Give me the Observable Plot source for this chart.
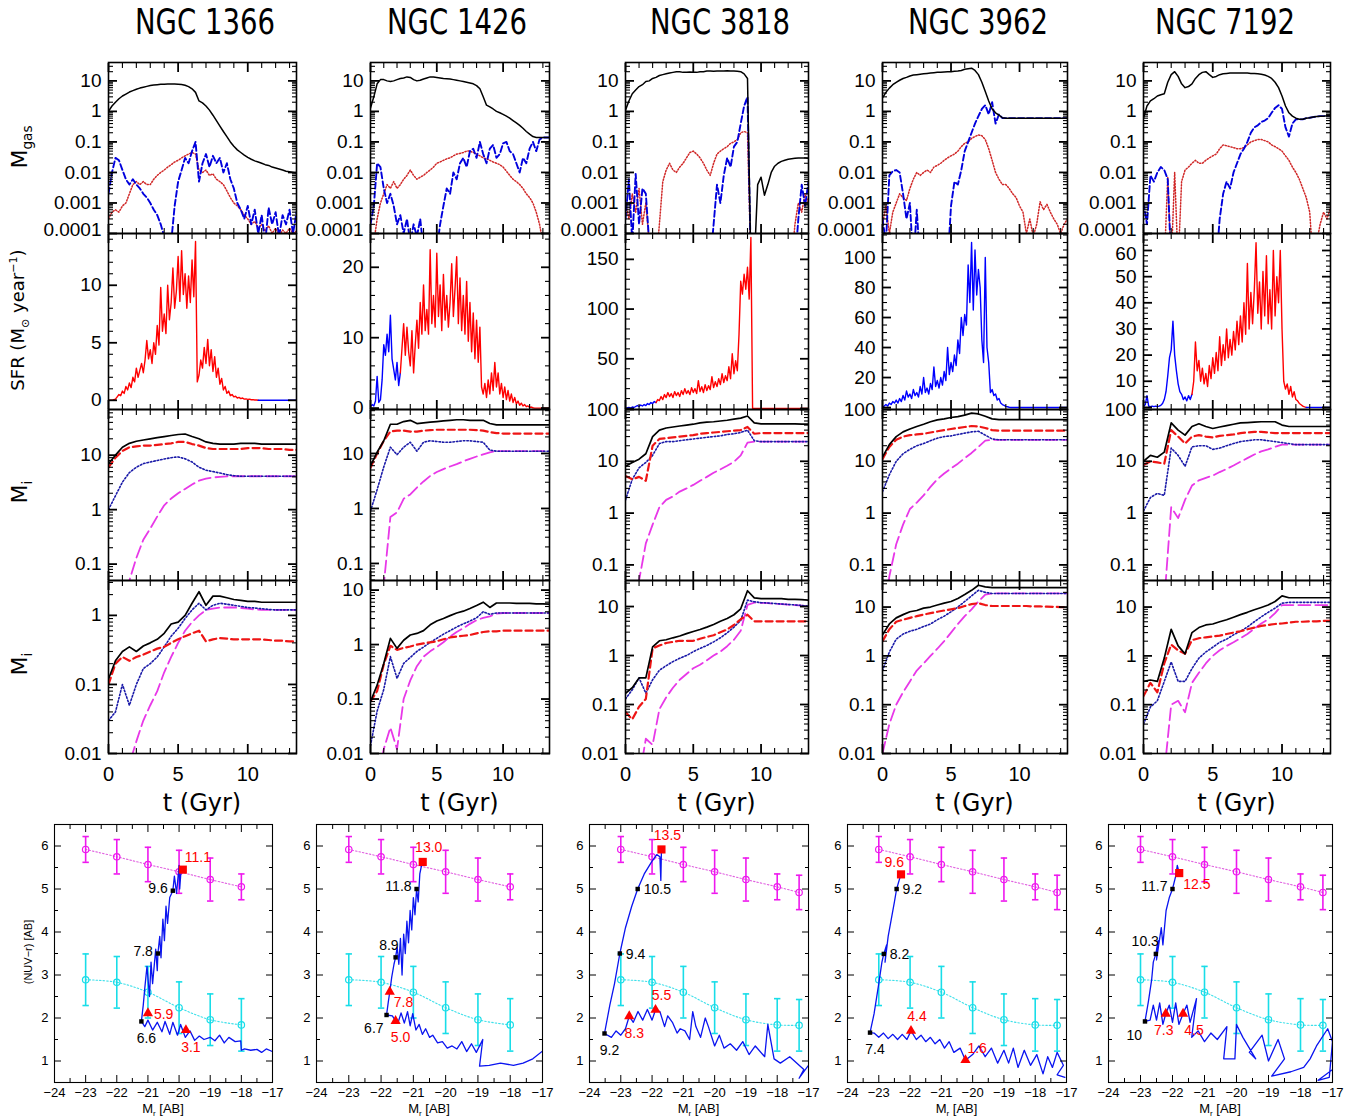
<!DOCTYPE html>
<html><head><meta charset="utf-8">
<script src="https://cdn.jsdelivr.net/npm/d3@7"></script>
<script src="https://cdn.jsdelivr.net/npm/@observablehq/plot@0.6"></script>
<style>
body{margin:0;background:#fff;}
#fig{position:relative;width:1360px;height:1120px;overflow:hidden;background:#fff;font-family:"Liberation Sans",Arial,sans-serif;color:#000;}
.title{position:absolute;font-family:"Liberation Sans Narrow","DejaVu Sans Condensed","Liberation Sans",sans-serif;font-size:36px;line-height:1;white-space:nowrap;transform:translate(-50%,-50%) scaleX(0.85);}
.ylab{position:absolute;white-space:nowrap;line-height:1;transform:translate(-50%,-50%) rotate(-90deg);font-family:"DejaVu Sans",sans-serif;}
.xlab{position:absolute;white-space:nowrap;line-height:1;transform:translate(-50%,-50%);}
sub,sup{font-size:0.62em;line-height:0;}
</style></head><body><div id="fig"></div>
<script>
// ---------------- data ----------------
const galaxies = ["NGC 1366","NGC 1426","NGC 3818","NGC 3962","NGC 7192"];

const T_A = [0,0.5,1,1.5,2,2.5,3,3.5,4,4.5,5,5.5,6,6.5,7,7.5,8,8.5,9,9.5,10,10.5,11,11.5,12,12.5,13,13.5];
const T_B = [0,0.25,0.5,0.75,1,1.25,1.5,1.75,2,2.25,2.5,2.75,3,3.25,3.5,3.75,4,4.25,4.5,4.75,5,5.25,5.5,5.75,6,6.25,6.5,6.75,7,7.25,7.5,7.75,8,8.25,8.5,8.75,9,9.25,9.5,9.75,10,10.25,10.5,10.75,11,11.25,11.5,11.75,12,12.25,12.5,12.75,13,13.25,13.5];
const T_C = [0,0.125,0.25,0.375,0.5,0.625,0.75,0.875,
 1,1.125,1.25,1.375,1.5,1.625,1.75,1.875,
 2,2.125,2.25,2.375,2.5,2.625,2.75,2.875,
 3,3.125,3.25,3.375,3.5,3.625,3.75,3.875,
 4,4.125,4.25,4.375,4.5,4.625,4.75,4.875,
 5,5.125,5.25,5.375,5.5,5.625,5.75,5.875,
 6,6.125,6.25,6.375,6.5,6.625,6.75,6.875,
 7,7.125,7.25,7.375,7.5,7.625,7.75,7.875,
 8,8.125,8.25,8.375,8.5,8.625,8.75,8.875,
 9,9.125,9.25,9.375,9.5,9.625,9.75,9.875,
 10,10.125,10.25,10.375,10.5,10.625,10.75,10.875,
 11,11.125,11.25,11.375,11.5,11.625,11.75,11.875,
 12,12.125,12.25,12.375,12.5,12.625,12.75,12.875,
 13,13.125,13.25,13.375,13.5];

// Row 1: M_gas (black solid, blue dashed, red dotted) on T_B
const gasK_1366 = [1.0,1.5,2.0,2.6, 3.2,3.7,4.3,4.8, 5.3,5.8,6.2,6.6, 7.0,7.3,7.5,7.7, 7.8,7.9,7.9,7.9, 7.8,7.6,7.2,6.5, 5.5,4.2,2.2,1.9, 1.5,1.1,0.75,0.5, 0.33,0.22,0.15,0.1, 0.072,0.055,0.045,0.037, 0.031,0.027,0.024,0.022, 0.02,0.018,0.017,0.015, 0.014,0.013,0.012,0.011, 0.0105,0.01,0.0095];
const gasB_1366 = [0.002,0.01,0.03,0.025, 0.012,0.006,0.004,0.006, 0.004,0.003,0.002,0.0015, 0.001,0.0006,0.0004,0.0002, 0.00008,0.00003,0.00005,0.0008, 0.005,0.012,0.03,0.02, 0.05,0.1,0.005,0.02, 0.04,0.015,0.035,0.02, 0.03,0.01,0.02,0.006, 0.003,0.001,0.0006,0.0003, 0.0008,0.0002,0.0006,0.0001, 0.0004,0.00005,0.0007,0.0002, 0.0005,0.00008,0.0004,0.0002, 0.0006,0.0001,0.0005];
const gasR_1366 = [0.0003,0.0005,0.0006,0.0005, 0.0008,0.001,0.002,0.004, 0.005,0.004,0.005,0.004, 0.004,0.006,0.008,0.01, 0.012,0.015,0.018,0.022, 0.025,0.03,0.035,0.04, 0.045,0.04,0.012,0.01, 0.012,0.008,0.009,0.006, 0.005,0.004,0.0025,0.0015, 0.001,0.0008,0.0006,0.0004, 0.0003,0.0002,0.00025,0.00015, 0.0002,0.00012,0.00018,0.0001, 0.00015,0.00008,0.00013,0.0001, 0.00015,0.0001,0.00012];

const gasK_1426 = [1.3,3,8,11, 11,10,9.5,10, 11,12,12.5,13.5, 13,11,10,10.5, 11.5,12.5,13.5,13.5, 13,12.5,12,11.8, 11.5,11,10.5,10, 9.5,9,8.5,8, 7,5.5,3,1.6, 1.4,1.2,1.0,0.9, 0.8,0.7,0.6,0.5, 0.42,0.35,0.28,0.22, 0.18,0.15,0.14,0.14, 0.14,0.14,0.14];
const gasB_1426 = [0.0002,0.0008,0.02,0.015, 0.003,0.001,0.002,0.0008, 0.0002,0.0004,0.0001,0.0003, 0.00005,0.0002,0.00008,0.0003, 0.00003,0.00001,0.00001,0.00001, 0.00003,0.0002,0.0008,0.003, 0.002,0.01,0.006,0.02, 0.03,0.015,0.05,0.06, 0.03,0.1,0.04,0.02, 0.06,0.08,0.03,0.04, 0.09,0.1,0.05,0.04, 0.02,0.01,0.03,0.02, 0.06,0.1,0.05,0.12, 0.14,0.14,0.14];
const gasR_1426 = [0.00001,0.00005,0.0003,0.001, 0.002,0.004,0.003,0.005, 0.003,0.004,0.006,0.008, 0.012,0.008,0.006,0.007, 0.008,0.01,0.012,0.015, 0.02,0.022,0.025,0.028, 0.03,0.035,0.04,0.042, 0.045,0.05,0.05,0.045, 0.04,0.035,0.03,0.028, 0.025,0.022,0.02,0.018, 0.015,0.011,0.008,0.006, 0.005,0.004,0.003,0.002, 0.0015,0.001,0.0005,0.0002, 0.00005,0.00001,0.0001];

const gasK_3818 = [1.1,2.2,3.8,5, 6.5,7.5,9.5,10, 12,13,15,16, 17,18,19,20, 20,19,19,19.5, 19,19,20,20, 21,21,20.5,21, 21,21,21.5,21, 21,20.5,20,17, 12,0.00001,0.00001,0.004, 0.007,0.0018,0.004,0.01, 0.016,0.02,0.023,0.025, 0.027,0.028,0.029,0.03, 0.03,0.03,0.029];
const gasB_3818 = [0.0003,0.006,0.00005,0.009, 0.0002,0.003,0.002,0.00005, 0.00001,0.00001,0.00001,0.00001, 0.00001,0.00001,0.00001,0.00001, 0.00001,0.00001,0.00001,0.00001, 0.00001,0.00001,0.00001,0.00001, 0.00001,0.00001,0.0002,0.004, 0.001,0.008,0.03,0.015, 0.07,0.1,0.4,1.5, 3,0.00001,0.00001,0.00001, 0.00001,0.00001,0.00001,0.00001, 0.00001,0.00001,0.00001,0.00001, 0.00001,0.00001,0.00001,0.0003, 0.004,0.0008,0.005];
const gasR_3818 = [0.001,0.0003,0.002,0.0005, 0.003,0.0002,0.001,0.00005, 0.00001,0.00001,0.0002,0.005, 0.012,0.02,0.012,0.01, 0.015,0.02,0.03,0.045, 0.05,0.04,0.03,0.02, 0.012,0.008,0.02,0.04, 0.05,0.06,0.07,0.09, 0.1,0.12,0.2,0.22, 0.2,0.00001,0.00001,0.00001, 0.00001,0.00001,0.00001,0.00001, 0.00001,0.00001,0.00001,0.00001, 0.00001,0.00001,0.0002,0.001, 0.0005,0.002,0.001];

const gasK_3962 = [2.8,4.2,5.8,7.5, 9,10.5,12,13, 14.5,15.5,16,16.5, 17,17.5,18,18.5, 19,19,19.5,20, 20,20.5,21,22, 24,25,26,22, 16,9,4.5,2.2, 1.2,0.9,0.75,0.62, 0.6,0.6,0.6,0.6, 0.6,0.6,0.6,0.6, 0.6,0.6,0.6,0.6, 0.6,0.6,0.6,0.6, 0.6,0.6,0.6];
const gasB_3962 = [0.0003,0.00005,0.008,0.011, 0.012,0.01,0.002,0.0003, 0.001,0.00001,0.0006,0.00001, 0.00001,0.00001,0.00001,0.00001, 0.00001,0.00001,0.00001,0.00001, 0.0008,0.005,0.004,0.012, 0.05,0.1,0.2,0.4, 0.7,1.2,1.6,0.8, 2.0,0.4,0.8,0.6, 0.6,0.6,0.6,0.6, 0.6,0.6,0.6,0.6, 0.6,0.6,0.6,0.6, 0.6,0.6,0.6,0.6, 0.6,0.6,0.6];
const gasR_3962 = [0.0002,0.0008,0.0001,0.0005, 0.001,0.002,0.0015,0.0012, 0.003,0.006,0.01,0.008, 0.01,0.012,0.01,0.015, 0.017,0.02,0.025,0.03, 0.035,0.04,0.05,0.07, 0.09,0.1,0.13,0.15, 0.17,0.16,0.12,0.06, 0.025,0.01,0.006,0.004, 0.004,0.003,0.002,0.0015, 0.0008,0.0005,0.0001,0.0003, 0.00008,0.0002,0.0011,0.0006, 0.0009,0.0005,0.0003,0.0002, 0.0001,0.0002,0.0003];

const gasK_7192 = [0.6,1.5,2.2,2.6, 3.2,3.5,3.8,9, 16,20,14,8, 6,6.5,8,12, 16,19,20,16, 13,14,16,17, 17.5,18,18,18, 18,18,18,17.5, 17.5,17,16.5,15.5, 14,12,9,6, 3.2,1.5,0.9,0.7, 0.6,0.55,0.55,0.6, 0.62,0.65,0.68,0.7, 0.7,0.72,0.72];
const gasB_7192 = [0.001,0.0002,0.008,0.005, 0.01,0.015,0.012,0.006, 0.00001,0.00001,0.00001,0.00001, 0.00001,0.00001,0.00001,0.00001, 0.00001,0.00001,0.00001,0.00001, 0.00001,0.00001,0.0003,0.002, 0.005,0.003,0.01,0.02, 0.04,0.06,0.1,0.2, 0.3,0.35,0.45,0.5, 0.6,0.9,1.3,1.6, 1.2,0.3,0.15,0.4, 0.55,0.55,0.55,0.6, 0.62,0.65,0.68,0.7, 0.7,0.72,0.72];
const gasR_7192 = [0.00001,0.00001,0.00001,0.00001, 0.00001,0.00001,0.00001,0.007, 0.00001,0.01,0.00001,0.005, 0.012,0.015,0.02,0.025, 0.02,0.02,0.025,0.03, 0.035,0.04,0.06,0.08, 0.075,0.07,0.065,0.06, 0.06,0.065,0.08,0.1, 0.11,0.12,0.12,0.11, 0.1,0.08,0.07,0.06, 0.05,0.035,0.025,0.015, 0.01,0.006,0.003,0.0015, 0.0005,0.00001,0.00005,0.0002, 0.0005,0.0003,0.0007];

// Row 2: SFR on T_C; colour segments [colour, t from, t to]
const sfr_1366 = [0,0,0,0.05,0.1,0.3,0.5,0.4, 0.8,0.6,1.2,0.9,1.5,1.1,2.0,1.6, 2.8,2.0,2.6,3.2,2.4,3.5,5.2,3.6, 4.4,3.2,5.0,4.0,6.5,4.8,9.8,6.0, 7.5,5.8,10.0,7.0,8.5,11.5,8.0,9.5, 12.5,8.6,13.0,9.2,11.0,8.0,10.8,8.5, 12.2,9.0,13.8,1.6,2.2,3.5,2.8,4.6, 3.2,5.3,3.0,4.4,2.5,3.8,2.0,2.8, 1.4,1.9,0.9,1.2,0.6,0.8,0.4,0.5, 0.3,0.35,0.2,0.25,0.15,0.2,0.1,0.12, 0.08,0.1,0.05,0.06,0.03,0.02,0,0, 0,0,0,0,0,0,0,0, 0,0,0,0,0,0,0,0, 0,0,0,0,0];
const sfr_1426 = [0.2,0.5,0.3,1.0,4.5,0.8,1.2,4.0, 9.0,7.5,10.5,8.0,13.2,7.0,5.5,4.0, 6.5,3.2,5.0,8.5,12.0,7.5,11.5,8.0, 6.0,11.0,5.0,9.0,12.5,8.5,15.0,10.5, 17.5,11.0,14.0,10.5,22.5,12.0,16.0,11.5, 22.0,13.0,17.5,11.0,19.0,12.5,16.0,11.5, 15.0,20.5,13.0,17.0,21.5,12.0,18.5,11.0, 16.0,10.5,18.0,9.5,15.0,8.0,13.5,7.0, 12.5,6.5,11.5,3.0,2.0,3.5,1.5,4.0, 2.0,5.0,2.5,6.5,3.0,5.0,2.0,3.5, 1.5,3.0,1.2,2.5,1.0,2.0,0.8,1.5, 0.6,1.0,0.4,0.7,0.3,0.5,0.2,0.3, 0.1,0.15,0.05,0,0,0,0,0, 0,0,0,0,0];
const sfr_3818 = [0,0.5,1,0.5,1.5,1,2,3, 2,3.5,2.5,4,3,5,4,6, 5,7,6,9,8,12,9,14, 11,16,12,15,11,17,13,16, 12,18,14,20,15,18,14,21, 16,20,15,28,17,22,16,24, 18,23,19,32,21,27,22,30, 24,35,26,33,28,42,30,55, 35,48,38,75,128,115,135,120, 142,110,172,0,0,0,0,0, 0,0,0,0,0,0,0,0, 0,0,0,0,0,0,0,0, 0,0,0,0,0,0,0,0, 0,0,0,0,0];
const sfr_3962 = [0.5,1,2,1,3,2,4,3, 5,3,6,4,8,5,11,7, 9,6,12,8,10,7,14,9, 20,10,13,9,16,12,27,14, 18,13,20,15,24,18,40,22, 30,24,35,28,45,36,60,48, 62,55,95,70,110,65,105,75, 92,80,45,30,100,40,30,10, 12,8,9,5,6,3,2,1.5, 0.8,0.5,0.2,0,0,0,0,0, 0,0,0,0,0,0,0,0, 0,0,0,0,0,0,0,0, 0,0,0,0,0,0,0,0, 0,0,0,0,0];
const sfr_7192 = [0.5,1,4.5,0.5,0.3,0.5,0.3,0.5, 0.3,0.5,0.8,1.5,3,6,12,19, 22,33,20,14,9,6,5,3, 4,2.5,4.5,3,5,10,25,14, 18,10,15,9,13,8,16,11, 19,13,21,14,27,16,24,18, 30,19,26,20,29,22,33,24, 35,25,40,28,55,30,44,32, 45,63,36,48,30,52,35,58, 32,45,30,60,35,50,40,60, 30,10,7,9,5,8,4,6, 3,2.5,1.5,1,0.5,0.2,0,0, 0,0,0,0,0,0,0,0, 0,0,0,0,0];
const sfrSeg_1366 = [["red",0,10.75],["blue",10.75,13.5]];
const sfrSeg_1426 = [["blue",0,2.25],["red",2.25,13.5]];
const sfrSeg_3818 = [["blue",0,2.25],["red",2.25,13.5]];
const sfrSeg_3962 = [["blue",0,13.5]];
const sfrSeg_7192 = [["blue",0,3.5],["red",3.5,11.75],["blue",11.75,13.5]];

// Row 3: M_i (black solid, red dashed, blue dotted, magenta long dash) on T_A
const m1K_1366 = [7,10, 14,16.5, 18,19, 20,21, 22,23, 24,24.5, 22,20, 17.5,16.5, 16,16, 16,16.5, 16.5,16.5, 16,16, 16,16, 16,16];
const m1R_1366 = [6,9, 12,14, 14.5,15, 15,15.5, 16,16.5, 17.5,17.5, 16,15, 13.5,13, 13,13, 13,13, 13.5,13.5, 13.5,13, 13,13, 12.5,12.5];
const m1B_1366 = [1.0,1.8, 3.2,4.8, 6,7, 7.5,8, 8.5,9, 9.3,8.6, 7.5,6, 5.3,5, 4.7,4.4, 4.2,4.1, 4.1,4.1, 4.1,4.1, 4.1,4.1, 4.1,4.1];
const m1M_1366 = [0.001,0.003, 0.01,0.05, 0.13,0.28, 0.45,0.75, 1.2,1.6, 2.0,2.4, 2.9,3.4, 3.7,3.9, 4.0,4.1, 4.1,4.1, 4.1,4.1, 4.1,4.1, 4.1,4.1, 4.1,4.1];
const m1K_1426 = [6,10.5, 17,34, 34,38, 40,35, 36,37, 38,39, 40,41, 41,40, 40,40, 35,33, 33,33, 33,33, 33,33, 33,33];
const m1R_1426 = [5.5,10, 17,25, 26,26, 25,25, 26,26.5, 27,27, 27,27, 27,27, 26.5,26, 24.5,23.5, 23,23, 23,23, 23,23, 23,23];
const m1B_1426 = [0.9,2.2, 5.7,13, 9.5,13, 16,11, 16,17, 16.5,16, 16,16.5, 17,17, 16.5,16, 11.5,11, 11,11, 11,11, 11,11, 11,11];
const m1M_1426 = [0.001,0.003, 0.04,0.7, 0.85,1.5, 1.8,2.4, 3.1,3.9, 4.6,5.2, 5.8,6.4, 7.2,8, 8.8,9.6, 10.5,11, 11,11, 11,11, 11,11, 11,11];
const m1K_3818 = [8,9.5, 11,14, 30,40, 44,46, 48,50, 52,55, 57,58, 60,62, 65,68, 75,55, 53,53, 53,53, 53,53, 52,52];
const m1R_3818 = [5.2,4.5, 5,4.2, 20,27, 28,29, 30,31, 32,34, 35,36, 37,38, 39,40, 46,34, 35,35, 35,35, 35,35, 35,35];
const m1B_3818 = [1.8,4.5, 7.5,9.5, 13,22, 24,24, 25,26, 27,28, 29,30, 31,33, 34,36, 40,25, 24,24, 24,24, 24,24, 24,24];
const m1M_3818 = [0.001,0.005, 0.05,0.26, 0.6,1.3, 1.8,2.1, 2.6,3.0, 3.5,4.2, 5.0,6, 7,8.2, 9.8,13, 23,24, 24,24, 24,24, 24,24, 24,24];
const m1K_3962 = [12,21, 30,37, 42,47, 52,58, 63,66, 70,73, 78,85, 82,74, 66,64, 64,64, 64,64, 64,64, 64,64, 64,64];
const m1R_3962 = [11,19, 26,30, 32,33, 34,36, 38,40, 42,44, 46,48, 47,44, 40,39, 39,39, 39,39, 39,39, 39,39, 39,39];
const m1B_3962 = [2.6,5.5, 10,14, 17,20, 22,25, 28,30, 31,33, 35,37, 38,32, 27,26, 26,26, 26,26, 26,26, 26,26, 26,26];
const m1M_3962 = [0.005,0.06, 0.25,0.6, 1.2,1.6, 2.2,3.2, 4.5,5.8, 7.3,9, 11.5,14.5, 19,25, 26,26, 26,26, 26,26, 26,26, 26,26, 26,26];
const m1K_7192 = [10,13, 12,15, 55,40, 32,47, 53,47, 43,46, 49,52, 55,56, 57,58, 58,58, 50,47, 47,47, 47,47, 47,47];
const m1R_7192 = [8.5,10, 9.5,9, 40,30, 22,30, 32,30, 29,31, 32,33, 35,36, 37,37, 36,35, 35,35, 35,35, 35,35, 35,35];
const m1B_7192 = [1.1,2, 2.4,2.2, 18,13, 8,19, 20,20, 17,18, 20,22, 24,25, 26,26, 25,24, 23,22, 21,21, 21,21, 21,21];
const m1M_7192 = [0.001,0.002, 0.005,0.02, 1.3,0.8, 1.8,3.4, 4.3,4.8, 5.3,6.2, 7.1,8.3, 9.8,11.5, 13.5,15.5, 17,19, 21,21, 21,21, 21,21, 21,21];

// Row 4: M_i on T_A
const m2K_1366 = [0.12,0.22, 0.3,0.35, 0.3,0.36, 0.4,0.45, 0.55,0.75, 0.8,1.0, 1.5,2.2, 1.4,1.9, 1.9,1.8, 1.7,1.65, 1.6,1.6, 1.55,1.55, 1.55,1.55, 1.55,1.55];
const m2R_1366 = [0.1,0.2, 0.25,0.22, 0.25,0.27, 0.3,0.33, 0.35,0.4, 0.45,0.5, 0.55,0.6, 0.42,0.45, 0.47,0.46, 0.45,0.45, 0.45,0.45, 0.45,0.44, 0.43,0.43, 0.42,0.42];
const m2B_1366 = [0.03,0.04, 0.1,0.05, 0.1,0.17, 0.2,0.25, 0.35,0.5, 0.65,0.9, 1.2,1.5, 1.2,1.4, 1.5,1.45, 1.4,1.35, 1.3,1.28, 1.25,1.22, 1.2,1.2, 1.2,1.2];
const m2M_1366 = [0.001,0.002, 0.004,0.007, 0.015,0.03, 0.05,0.08, 0.15,0.25, 0.4,0.6, 0.8,1.0, 1.2,1.25, 1.3,1.3, 1.3,1.28, 1.25,1.22, 1.2,1.2, 1.2,1.2, 1.2,1.2];
const m2K_1426 = [0.09,0.18, 0.45,1.3, 0.85,1.2, 1.5,1.6, 1.8,2.3, 2.7,3.0, 3.4,3.8, 4.1,4.6, 5.2,6, 4.8,5.8, 5.8,5.8, 5.7,5.7, 5.7,5.6, 5.6,5.5];
const m2R_1426 = [0.09,0.14, 0.43,0.95, 0.8,0.87, 0.92,1.0, 1.05,1.1, 1.15,1.25, 1.35,1.4, 1.45,1.5, 1.6,1.7, 1.75,1.75, 1.8,1.8, 1.8,1.8, 1.8,1.8, 1.8,1.8];
const m2B_1426 = [0.014,0.06, 0.15,0.6, 0.24,0.45, 0.58,0.75, 0.9,1.1, 1.3,1.55, 1.8,2.1, 2.4,2.7, 3.1,4.0, 3.6,3.8, 3.8,3.8, 3.8,3.8, 3.8,3.8, 3.8,3.8];
const m2M_1426 = [0.001,0.003, 0.012,0.03, 0.012,0.1, 0.22,0.4, 0.6,0.75, 0.9,1.1, 1.4,1.7, 2.0,2.4, 2.8,3.1, 3.3,3.7, 3.8,3.8, 3.8,3.8, 3.8,3.8, 3.8,3.8];
const m2K_3818 = [0.17,0.22, 0.35,0.35, 1.5,2.0, 2.1,2.3, 2.5,2.8, 3.1,3.4, 3.8,4.3, 5.0,5.7, 6.8,9, 21,15, 14.5,14.5, 14.5,14.5, 14,14, 13.8,13.5];
const m2R_3818 = [0.07,0.05, 0.09,0.13, 1.4,1.6, 1.8,1.9, 2.0,2.0, 2.0,2.2, 2.4,2.6, 3.0,3.4, 4.2,5.5, 6.8,5, 5,5, 5,5, 5,5, 5,5];
const m2B_3818 = [0.13,0.2, 0.35,0.17, 0.32,0.5, 0.62,0.75, 0.88,1.0, 1.2,1.4, 1.6,1.9, 2.3,2.9, 3.8,5.2, 13.5,12.5, 12,11.8, 11.5,11.3, 11,10.8, 10.5,10.2];
const m2M_3818 = [0.001,0.001, 0.003,0.02, 0.015,0.08, 0.14,0.22, 0.32,0.42, 0.55,0.65, 0.8,1.0, 1.2,1.55, 2.1,3.2, 10.8,12.0, 11.9,11.7, 11.4,11.2, 10.9,10.7, 10.4,10.1];
const m2K_3962 = [2.7,4.5, 6,7, 8,8.5, 9.5,10, 11,12, 13,15, 18,22, 28,26, 25,25, 25,25, 25,25, 25,25, 25,25, 25,25];
const m2R_3962 = [2,3.5, 5,5.5, 6,6.5, 7,7.5, 8,8.5, 9,9.5, 10.5,11.5, 12,11, 10.5,10.5, 10.5,10.5, 10.5,10.5, 10.3,10.3, 10.2,10.1, 10,10];
const m2B_3962 = [0.5,1.2, 2.2,2.8, 3.2,3.5, 4,4.5, 5.5,6.5, 8,10, 13,17, 22,20, 19,19, 19,19, 19,19, 19,19, 19,19, 19,19];
const m2M_3962 = [0.01,0.04, 0.1,0.18, 0.3,0.5, 0.7,1.0, 1.4,2.0, 3.0,4.5, 6.5,9, 13,18, 19,19, 19,19, 19,19, 19,19, 19,19, 19,19];
const m2K_7192 = [0.3,0.32, 0.3,0.9, 3.5,1.6, 1.1,3.0, 3.8,4.3, 4.5,5, 5.5,6.2, 7,7.8, 8.8,9.8, 11,13, 17,15.5, 15.5,15.5, 15.5,15.5, 15.5,15.5];
const m2R_7192 = [0.15,0.28, 0.18,0.7, 1.7,1.3, 1.1,2.1, 2.3,2.4, 2.5,2.6, 2.8,3.0, 3.2,3.5, 3.8,4.1, 4.3,4.5, 4.6,4.8, 5,5, 5.1,5.1, 5.2,5.2];
const m2B_7192 = [0.04,0.09, 0.12,0.3, 0.75,0.3, 0.3,0.55, 0.9,1.2, 1.5,1.9, 2.2,2.7, 3.2,3.9, 5,6.3, 7.8,9.5, 12,12.5, 12.5,12.5, 12.5,12.5, 12.5,12.5];
const m2M_7192 = [0.007,0.005, 0.003,0.004, 0.1,0.12, 0.07,0.28, 0.45,0.7, 1.0,1.3, 1.6,1.9, 2.3,2.8, 3.6,4.6, 5.6,7.5, 11,11, 11,11, 11,11, 11,11];

// Row 5: colour-magnitude reference sequences
const refMr   = [-23,-22,-21,-20,-19,-18,-17.3];
const redSeq  = [5.92,5.75,5.57,5.40,5.22,5.05,4.92];
const redErr  = [0.30,0.40,0.40,0.50,0.50,0.30,0.40];
const blueSeq = [2.89,2.83,2.60,2.24,1.96,1.84,1.83];
const blueErr = [0.60,0.60,0.60,0.60,0.60,0.61,0.60];
const refCount = [6,6,7,7,7];

// Row 5: evolutionary tracks
const trMr_1366 = [-17.0,-17.2,-17.35,-17.5,-17.7,-17.9,-18.0,-18.02,-18.2,-18.4,-18.55,-18.7,-18.85,-19.0,-19.2,-19.35,-19.5,-19.65,-19.8,-19.95,-20.05,-20.2,-20.3,-20.45,-20.55,-20.7,-20.85,-21.0,-21.1,-21.21,-21.15,-21.1,-21.03,-20.95,-20.9,-20.85,-20.75,-20.7,-20.68,-20.62,-20.58,-20.52,-20.47,-20.42,-20.37,-20.3,-20.2,-20.15,-20.08,-20.0,-19.98,-19.93,-19.88];
const trCol_1366 = [1.22,1.28,1.2,1.27,1.25,1.28,1.25,1.47,1.45,1.55,1.42,1.6,1.47,1.55,1.5,1.58,1.48,1.7,1.55,1.85,1.6,1.9,1.62,1.92,1.68,1.9,1.72,1.95,1.8,1.92,2.3,2.7,3.2,2.5,3.3,2.8,3.6,3.1,3.5,3.9,3.4,4.3,3.8,4.6,4.2,4.8,4.96,5.3,4.9,5.55,5.0,5.5,5.45];
const trMr_1426 = [-17.0,-17.3,-17.6,-17.9,-18.3,-18.65,-18.95,-18.85,-19.05,-19.2,-19.35,-19.5,-19.65,-19.8,-19.95,-20.1,-20.25,-20.4,-20.5,-20.62,-20.72,-20.82,-20.92,-21.02,-21.1,-21.18,-21.28,-21.38,-21.47,-21.55,-21.65,-21.83,-21.78,-21.73,-21.67,-21.6,-21.55,-21.5,-21.45,-21.4,-21.35,-21.3,-21.25,-21.2,-21.15,-21.1,-21.05,-21.0,-20.95,-20.9,-20.85,-20.8,-20.76,-20.71];
const trCol_1426 = [1.23,1.05,0.95,0.9,0.95,0.9,0.88,1.5,1.2,1.4,1.22,1.45,1.28,1.35,1.3,1.45,1.42,1.6,1.55,1.75,1.62,1.85,1.72,2.1,1.82,2.15,1.88,2.12,1.9,1.93,2.05,2.07,2.35,2.61,2.95,3.25,3.41,3.65,3.25,3.85,3.0,3.95,3.5,4.25,3.75,4.5,4.05,4.8,4.4,5.0,4.7,5.35,5.5,5.63];
const trMr_3818 = [-17.0,-17.3,-17.15,-17.6,-17.9,-18.1,-18.3,-18.4,-18.7,-18.9,-19.1,-19.3,-19.5,-19.7,-19.85,-20.0,-20.2,-20.3,-20.45,-20.6,-20.7,-20.8,-20.95,-21.1,-21.2,-21.35,-21.5,-21.6,-21.75,-21.89,-22.0,-22.15,-22.3,-22.45,-22.6,-22.73,-22.85,-23.0,-23.15,-23.3,-23.52,-23.35,-23.2,-23.03,-22.85,-22.65,-22.46,-22.25,-22.0,-21.85,-21.75,-21.72,-21.7];
const trCol_3818 = [0.9,0.6,0.8,1.1,0.95,1.05,1.85,1.1,1.35,1.15,1.45,1.25,1.4,1.3,1.6,1.35,1.8,2.0,1.55,1.8,2.15,1.5,1.7,1.75,1.65,1.9,2.05,1.8,2.15,2.19,1.95,2.2,1.95,2.15,1.9,2.04,1.75,1.6,1.7,1.55,1.64,2.3,2.8,3.5,4.1,4.6,5.0,5.35,5.65,5.8,5.75,5.2,5.92];
const trMr_3962 = [-17.05,-17.3,-17.1,-17.3,-17.45,-17.6,-17.75,-17.95,-18.15,-18.35,-18.55,-18.7,-18.85,-19.0,-19.2,-19.4,-19.6,-19.8,-20.0,-20.23,-20.4,-20.6,-20.75,-20.9,-21.05,-21.2,-21.35,-21.5,-21.65,-21.8,-21.97,-22.1,-22.25,-22.4,-22.55,-22.7,-22.85,-23.0,-23.15,-23.28,-23.15,-23.0,-22.9,-22.84,-22.75,-22.8,-22.7,-22.6,-22.5,-22.43,-22.35,-22.29];
const trCol_3962 = [0.62,0.68,0.9,1.2,0.85,1.1,0.7,1.15,0.9,1.25,0.85,1.3,0.95,1.25,0.95,1.3,1.1,1.35,1.15,1.02,1.3,1.2,1.45,1.3,1.5,1.4,1.55,1.45,1.6,1.5,1.7,1.5,1.62,1.5,1.62,1.52,1.65,1.55,1.65,1.66,2.1,2.8,3.3,3.49,3.7,3.3,3.9,4.3,4.7,5.0,5.2,5.34];
const trMr_7192 = [-17.0,-17.45,-17.1,-17.0,-17.15,-17.5,-17.7,-17.9,-18.3,-18.9,-18.5,-18.7,-19.0,-19.2,-19.6,-19.4,-19.8,-20.0,-20.05,-20.4,-20.3,-20.6,-20.8,-21.0,-21.2,-21.4,-21.25,-21.45,-21.55,-21.67,-21.8,-21.9,-22.0,-22.1,-22.21,-22.3,-22.4,-22.5,-22.6,-22.7,-22.86,-22.75,-22.65,-22.6,-22.52,-22.45,-22.5,-22.35,-22.3,-22.2,-22.1,-22.0,-21.9,-21.85,-21.79];
const trCol_7192 = [0.8,0.55,0.62,1.45,1.75,1.35,1.05,0.85,0.75,0.65,1.05,1.5,1.0,1.6,1.2,1.05,1.55,1.85,1.05,1.05,1.8,1.5,1.65,1.45,1.7,1.55,2.45,1.9,2.3,2.1,1.85,2.35,1.9,2.3,2.1,1.85,2.35,1.95,2.3,1.95,1.92,2.4,2.9,3.3,3.49,3.8,3.35,4.1,3.7,4.5,4.8,5.0,5.3,5.55,5.37];

// Row 5: time markers (label in Gyr, Mr, NUV-r, kind: k=black square, t=red triangle, s=red square, label side)
const mkLab_1366 = ["3.1","5.9","6.6","7.8","9.6","11.1"];
const mkMr_1366  = [-19.78,-21.0,-21.21,-20.68,-20.2,-19.88];
const mkCol_1366 = [1.72,2.11,1.92,3.5,4.96,5.45];
const mkKind_1366 = ["t","t","k","k","k","s"];
const mkSide_1366 = ["s","e","s","w","w","ne"];
const mkLab_1426 = ["5.0","6.7","7.8","8.9","11.8","13.0"];
const mkMr_1426  = [-21.55,-21.83,-21.73,-21.55,-20.9,-20.71];
const mkCol_1426 = [1.93,2.07,2.61,3.41,5.0,5.63];
const mkKind_1426 = ["t","k","t","k","k","s"];
const mkSide_1426 = ["s","sw","se","nw","w","n"];
const mkLab_3818 = ["5.5","8.3","9.2","9.4","10.5","13.5"];
const mkMr_3818  = [-21.89,-22.73,-23.52,-23.03,-22.46,-21.7];
const mkCol_3818 = [2.19,2.04,1.64,3.5,5.0,5.92];
const mkKind_3818 = ["t","t","k","k","k","s"];
const mkSide_3818 = ["n","s","s","e","e","n"];
const mkLab_3962 = ["1.6","4.4","7.4","8.2","9.2","9.6"];
const mkMr_3962  = [-20.23,-21.97,-23.28,-22.84,-22.43,-22.29];
const mkCol_3962 = [1.02,1.7,1.66,3.49,5.0,5.34];
const mkKind_3962 = ["t","t","k","k","k","s"];
const mkSide_3962 = ["ne","n","s","e","e","nw"];
const mkLab_7192 = ["4.5","7.3","10","10.3","11.7","12.5"];
const mkMr_7192  = [-21.67,-22.21,-22.86,-22.52,-22.0,-21.79];
const mkCol_7192 = [2.1,2.1,1.92,3.49,5.0,5.37];
const mkKind_7192 = ["t","t","k","k","k","s"];
const mkSide_7192 = ["sr","sl","sw","nw","w","se"];

// axis scales
const tDomain = [0, 13.5];
const tMajor = [0,5,10];
const tMinor = [1,2,3,4,6,7,8,9,11,12,13];
const gasDomain = [1e-4, 40];
const sfrDomain = [[-0.8,14.5],[-0.2,24.8],[-1,176],[-1.3,116],[-0.8,66.5]];
const sfrTicks = [[0,5,10],[0,10,20],[0,50,100,150],[0,20,40,60,80,100],[0,10,20,30,40,50,60]];
const sfrLabels = [[0,5,10],[0,10,20],[50,100,150],[20,40,60,80,100],[10,20,30,40,50,60]];
const sfrMinorStep = [1,2,10,5,2];
const m1Domain = [[0.05,69],[0.049,63],[0.05,100],[0.05,100],[0.05,100]];
const m2Domain = [[0.01,3.2],[0.01,15],[0.01,34],[0.01,35],[0.01,35]];
const cmdMrDomain = [-24,-17];
const cmdColDomain = [0.5,6.5];
const cmdMrTicks = [-24,-23,-22,-21,-20,-19,-18,-17];
const cmdColTicks = [1,2,3,4,5,6];

// ---------------- assemble ----------------
const G = [
 {gasK:gasK_1366,gasB:gasB_1366,gasR:gasR_1366,sfr:sfr_1366,seg:sfrSeg_1366,m1:[m1K_1366,m1R_1366,m1B_1366,m1M_1366],m2:[m2K_1366,m2R_1366,m2B_1366,m2M_1366],trMr:trMr_1366,trCol:trCol_1366,mk:[mkLab_1366,mkMr_1366,mkCol_1366,mkKind_1366,mkSide_1366]},
 {gasK:gasK_1426,gasB:gasB_1426,gasR:gasR_1426,sfr:sfr_1426,seg:sfrSeg_1426,m1:[m1K_1426,m1R_1426,m1B_1426,m1M_1426],m2:[m2K_1426,m2R_1426,m2B_1426,m2M_1426],trMr:trMr_1426,trCol:trCol_1426,mk:[mkLab_1426,mkMr_1426,mkCol_1426,mkKind_1426,mkSide_1426]},
 {gasK:gasK_3818,gasB:gasB_3818,gasR:gasR_3818,sfr:sfr_3818,seg:sfrSeg_3818,m1:[m1K_3818,m1R_3818,m1B_3818,m1M_3818],m2:[m2K_3818,m2R_3818,m2B_3818,m2M_3818],trMr:trMr_3818,trCol:trCol_3818,mk:[mkLab_3818,mkMr_3818,mkCol_3818,mkKind_3818,mkSide_3818]},
 {gasK:gasK_3962,gasB:gasB_3962,gasR:gasR_3962,sfr:sfr_3962,seg:sfrSeg_3962,m1:[m1K_3962,m1R_3962,m1B_3962,m1M_3962],m2:[m2K_3962,m2R_3962,m2B_3962,m2M_3962],trMr:trMr_3962,trCol:trCol_3962,mk:[mkLab_3962,mkMr_3962,mkCol_3962,mkKind_3962,mkSide_3962]},
 {gasK:gasK_7192,gasB:gasB_7192,gasR:gasR_7192,sfr:sfr_7192,seg:sfrSeg_7192,m1:[m1K_7192,m1R_7192,m1B_7192,m1M_7192],m2:[m2K_7192,m2R_7192,m2B_7192,m2M_7192],trMr:trMr_7192,trCol:trCol_7192,mk:[mkLab_7192,mkMr_7192,mkCol_7192,mkKind_7192,mkSide_7192]}
];

function zip(xs, ys){ const n=Math.min(xs.length, ys.length); const out=[]; for(let i=0;i<n;i++) out.push({x:xs[i], y:ys[i]}); return out; }

// ---------------- layout & style ----------------
const fig = document.getElementById("fig");
function place(node, left, top){ node.style.position="absolute"; node.style.left=left+"px"; node.style.top=top+"px"; fig.appendChild(node); }
function addDiv(cls, htmlText, cx, cy, css){ const el=document.createElement("div"); el.className=cls; el.innerHTML=htmlText; el.style.left=cx+"px"; el.style.top=cy+"px"; Object.assign(el.style, css||{}); fig.appendChild(el); return el; }

const colLeft=[108,370,625,882,1143], colRight=[296,549,808,1067,1330];
const rowTop=[62,233,409,580], rowBot=[233,409,580,753];
const ML=80, MR=12, MT=12, MB=12;
const FONT = "'Liberation Sans', Arial, Helvetica, sans-serif";
const baseStyle = {background:"transparent", overflow:"visible", fontFamily:FONT, fontSize:"19px", color:"black"};

function decades(dom){ const out=[]; for(let e=-5;e<=3;e++){ const v=+Math.pow(10,e).toPrecision(6); if(v>=dom[0]*0.999 && v<=dom[1]*1.001) out.push(v);} return out; }
function logMinor(dom){ const out=[]; for(let e=-5;e<=2;e++){ for(let k=2;k<=9;k++){ const v=+(k*Math.pow(10,e)).toPrecision(6); if(v>dom[0] && v<dom[1]) out.push(v);} } return out; }
function linMinor(dom, step, major){ const out=[]; for(let v=Math.ceil(dom[0]/step)*step; v<dom[1]; v+=step){ const r=+v.toFixed(6); if(!major.includes(r) && r>dom[0]) out.push(r);} return out; }

function tickMarksY(major, minor, L1, L2, w1, w2){
  return [
    Plot.axisY(major,{anchor:"left",tickSize:-L1,strokeWidth:w1,fill:"none",label:null}),
    Plot.axisY(major,{anchor:"right",tickSize:-L1,strokeWidth:w1,fill:"none",label:null}),
    Plot.axisY(minor,{anchor:"left",tickSize:-L2,strokeWidth:w2,fill:"none",label:null}),
    Plot.axisY(minor,{anchor:"right",tickSize:-L2,strokeWidth:w2,fill:"none",label:null})
  ];
}
function tickMarksX(major, minor, L1, L2, w1, w2){
  return [
    Plot.axisX(major,{anchor:"bottom",tickSize:-L1,strokeWidth:w1,fill:"none",label:null}),
    Plot.axisX(major,{anchor:"top",tickSize:-L1,strokeWidth:w1,fill:"none",label:null}),
    Plot.axisX(minor,{anchor:"bottom",tickSize:-L2,strokeWidth:w2,fill:"none",label:null}),
    Plot.axisX(minor,{anchor:"top",tickSize:-L2,strokeWidth:w2,fill:"none",label:null})
  ];
}

// labelSets: list of [values, dy] so an edge label can be nudged clear of its neighbour
function timePanel(c, r, yScale, lines, major, minor, labelSets){
  const w = colRight[c]-colLeft[c], h = rowBot[r]-rowTop[r];
  const mb = r===3 ? 40 : MB;
  const marks = [
    ...lines,
    ...tickMarksY(major, minor, 9, 5, 1.8, 1.1),
    ...tickMarksX(tMajor, tMinor, 9, 5, 1.8, 1.1),
    ...labelSets.filter(([v])=>v.length).map(([v,dy]) => Plot.axisY(v,{anchor:"left",tickSize:0,tickPadding:7,tickFormat:d=>String(d),dy,label:null})),
    Plot.frame({stroke:"black", strokeWidth:1.6})
  ];
  if (r===3) marks.push(Plot.axisX(tMajor,{anchor:"bottom",tickSize:0,tickPadding:13,fontSize:20,label:null}));
  const p = Plot.plot({
    width:w+ML+MR, height:h+MT+mb,
    marginLeft:ML, marginRight:MR, marginTop:MT, marginBottom:mb,
    x:{type:"linear", domain:tDomain, axis:null},
    y:Object.assign({axis:null}, yScale),
    style:baseStyle, marks
  });
  place(p, colLeft[c]-ML, rowTop[r]-MT);
}

const cRed="#ff0000", cBlue="#0000ff";
function miLines(arr){
  const [K,R,B,M] = arr;
  return [
    Plot.line(zip(T_A,M),{x:"x",y:"y",stroke:"#e838e8",strokeWidth:1.8,strokeDasharray:"12,5",clip:true}),
    Plot.line(zip(T_A,B),{x:"x",y:"y",stroke:"#1a1aa8",strokeWidth:1.6,strokeDasharray:"1.5,2",clip:true}),
    Plot.line(zip(T_A,R),{x:"x",y:"y",stroke:"#ee1515",strokeWidth:2.2,strokeDasharray:"7,4",clip:true}),
    Plot.line(zip(T_A,K),{x:"x",y:"y",stroke:"black",strokeWidth:1.7,clip:true})
  ];
}

G.forEach((g, c) => {
  // row 1
  const gl = decades(gasDomain);
  timePanel(c, 0, {type:"log", domain:gasDomain}, [
    Plot.line(zip(T_B,g.gasR),{x:"x",y:"y",stroke:"#d02828",strokeWidth:1.5,strokeDasharray:"1.2,1.8",clip:true}),
    Plot.line(zip(T_B,g.gasB),{x:"x",y:"y",stroke:"#0000dd",strokeWidth:1.9,strokeDasharray:"6,3",clip:true}),
    Plot.line(zip(T_B,g.gasK),{x:"x",y:"y",stroke:"black",strokeWidth:1.5,clip:true})
  ], gl, logMinor(gasDomain), [[gl.slice(1),0],[gl.slice(0,1),-4]]);
  // row 2
  const sd = zip(T_C, g.sfr);
  const sl = sfrLabels[c];
  timePanel(c, 1, {type:"linear", domain:sfrDomain[c]},
    g.seg.map(([col,a,b]) => Plot.line(sd.filter(p=>p.x>=a && p.x<=b),{x:"x",y:"y",stroke:col==="red"?cRed:cBlue,strokeWidth:1.4,clip:true})),
    sfrTicks[c], linMinor(sfrDomain[c], sfrMinorStep[c], sfrTicks[c]),
    [[sl.slice(0,-1),0],[sl.slice(-1), c===4 ? 3 : 0]]);
  // row 3
  timePanel(c, 2, {type:"log", domain:m1Domain[c]}, miLines(g.m1), decades(m1Domain[c]), logMinor(m1Domain[c]), [[decades(m1Domain[c]),0]]);
  // row 4
  timePanel(c, 3, {type:"log", domain:m2Domain[c]}, miLines(g.m2), decades(m2Domain[c]), logMinor(m2Domain[c]), [[decades(m2Domain[c]),0]]);
});

// ---------------- bottom row ----------------
const bLeft=[54,316,589,847,1108], bRight=[272,542,808,1066,1332], bTop=824, bBot=1082;
const capSymbol = {draw(ctx, size){ const w=Math.sqrt(size)/2; ctx.moveTo(-w,0); ctx.lineTo(w,0); }};
const sideStyle = {
  n:{a:"middle",dx:6,dy:-14}, nw:{a:"end",dx:3,dy:-12}, ne:{a:"start",dx:2,dy:-12},
  e:{a:"start",dx:6,dy:1}, w:{a:"end",dx:-5,dy:-2}, s:{a:"middle",dx:5,dy:17},
  sl:{a:"middle",dx:-2,dy:17}, sr:{a:"middle",dx:11,dy:17},
  sw:{a:"end",dx:-3,dy:14}, se:{a:"start",dx:4,dy:11}
};
const minusFmt = d => d<0 ? "\u2212"+Math.abs(d) : String(d);

G.forEach((g, c) => {
  const n = refCount[c];
  const red=[], blue=[];
  for(let i=0;i<n;i++){
    red.push({x:refMr[i], y:redSeq[i], lo:redSeq[i]-redErr[i], hi:redSeq[i]+redErr[i]});
    blue.push({x:refMr[i], y:blueSeq[i], lo:blueSeq[i]-blueErr[i], hi:blueSeq[i]+blueErr[i]});
  }
  const caps = arr => arr.flatMap(d=>[{x:d.x,y:d.lo},{x:d.x,y:d.hi}]);
  const [lab, mr, col, kind, side] = g.mk;
  const mk = lab.map((l,i)=>({lab:l, x:mr[i], y:col[i], kind:kind[i], side:side[i]}));
  const marks = [
    Plot.line(blue,{x:"x",y:"y",stroke:"#3ee0ea",strokeWidth:1.1,strokeDasharray:"1.5,2",curve:"catmull-rom"}),
    Plot.line(red,{x:"x",y:"y",stroke:"#e060e0",strokeWidth:1.1,strokeDasharray:"1.5,2",curve:"catmull-rom"}),
    Plot.ruleX(blue,{x:"x",y1:"lo",y2:"hi",stroke:"#18dde8",strokeWidth:1.6}),
    Plot.ruleX(red,{x:"x",y1:"lo",y2:"hi",stroke:"#ee18ee",strokeWidth:1.6}),
    Plot.dot(caps(blue),{x:"x",y:"y",symbol:capSymbol,r:3.6,stroke:"#18dde8",strokeWidth:1.6,fill:"none"}),
    Plot.dot(caps(red),{x:"x",y:"y",symbol:capSymbol,r:3.6,stroke:"#ee18ee",strokeWidth:1.6,fill:"none"}),
    Plot.dot(blue,{x:"x",y:"y",r:3.2,stroke:"#18dde8",strokeWidth:1.2,fill:"none"}),
    Plot.dot(red,{x:"x",y:"y",r:3.2,stroke:"#ee18ee",strokeWidth:1.2,fill:"none"}),
    Plot.line(zip(g.trMr, g.trCol),{x:"x",y:"y",stroke:"#0a14f0",strokeWidth:1.3,clip:true}),
    Plot.dot(mk.filter(d=>d.kind==="k"),{x:"x",y:"y",symbol:"square",r:2.5,fill:"black"}),
    Plot.dot(mk.filter(d=>d.kind==="t"),{x:"x",y:"y",symbol:"triangle",r:3.8,fill:cRed}),
    Plot.dot(mk.filter(d=>d.kind==="s"),{x:"x",y:"y",symbol:"square",r:4.6,fill:cRed}),
    ...mk.map(d => { const s=sideStyle[d.side]; return Plot.text([d],{x:"x",y:"y",text:"lab",fill:d.kind==="k"?"black":cRed,textAnchor:s.a,dx:s.dx,dy:s.dy,fontSize:14}); }),
    ...tickMarksY(cmdColTicks, [1.5,2.5,3.5,4.5,5.5], 7, 4, 1, 1),
    ...tickMarksX(cmdMrTicks, [-23.5,-22.5,-21.5,-20.5,-19.5,-18.5,-17.5], 7, 4, 1, 1),
    Plot.axisX(cmdMrTicks,{anchor:"bottom",tickSize:0,tickPadding:5,tickFormat:minusFmt,fontSize:13,label:null}),
    Plot.axisY(cmdColTicks,{anchor:"left",tickSize:0,tickPadding:6,fontSize:13,label:null}),
    Plot.frame({stroke:"black",strokeWidth:1.1})
  ];
  const W=bRight[c]-bLeft[c], H=bBot-bTop;
  const p = Plot.plot({
    width:W+50, height:H+40, marginLeft:40, marginRight:10, marginTop:10, marginBottom:30,
    x:{type:"linear", domain:cmdMrDomain, axis:null},
    y:{type:"linear", domain:cmdColDomain, axis:null},
    style:Object.assign({}, baseStyle, {fontSize:"13px"}), marks
  });
  place(p, bLeft[c]-40, bTop-10);
  addDiv("xlab", "M<sub>r</sub> [AB]", (bLeft[c]+bRight[c])/2, 1108, {fontSize:"13px"});
});

// ---------------- titles and axis titles ----------------
const titleX = [205,457,720,978,1225];
galaxies.forEach((name,i) => addDiv("title", name, titleX[i], 22));
colLeft.forEach((l,i) => addDiv("xlab", "t&nbsp;(Gyr)", (l+colRight[i])/2, 803, {fontSize:"24px", fontFamily:"'DejaVu Sans',sans-serif"}));
addDiv("ylab", "M<sub>gas</sub>", 20, 147, {fontSize:"22px"});
addDiv("ylab", "SFR (M<sub>\u2299</sub> year<sup>\u22121</sup>)", 18, 320, {fontSize:"18px"});
addDiv("ylab", "M<sub>i</sub>", 20, 492, {fontSize:"22px"});
addDiv("ylab", "M<sub>i</sub>", 20, 664, {fontSize:"22px"});
addDiv("ylab", "(NUV\u2212r) [AB]", 28, 952, {fontSize:"11px", fontFamily:FONT});
</script></body></html>
